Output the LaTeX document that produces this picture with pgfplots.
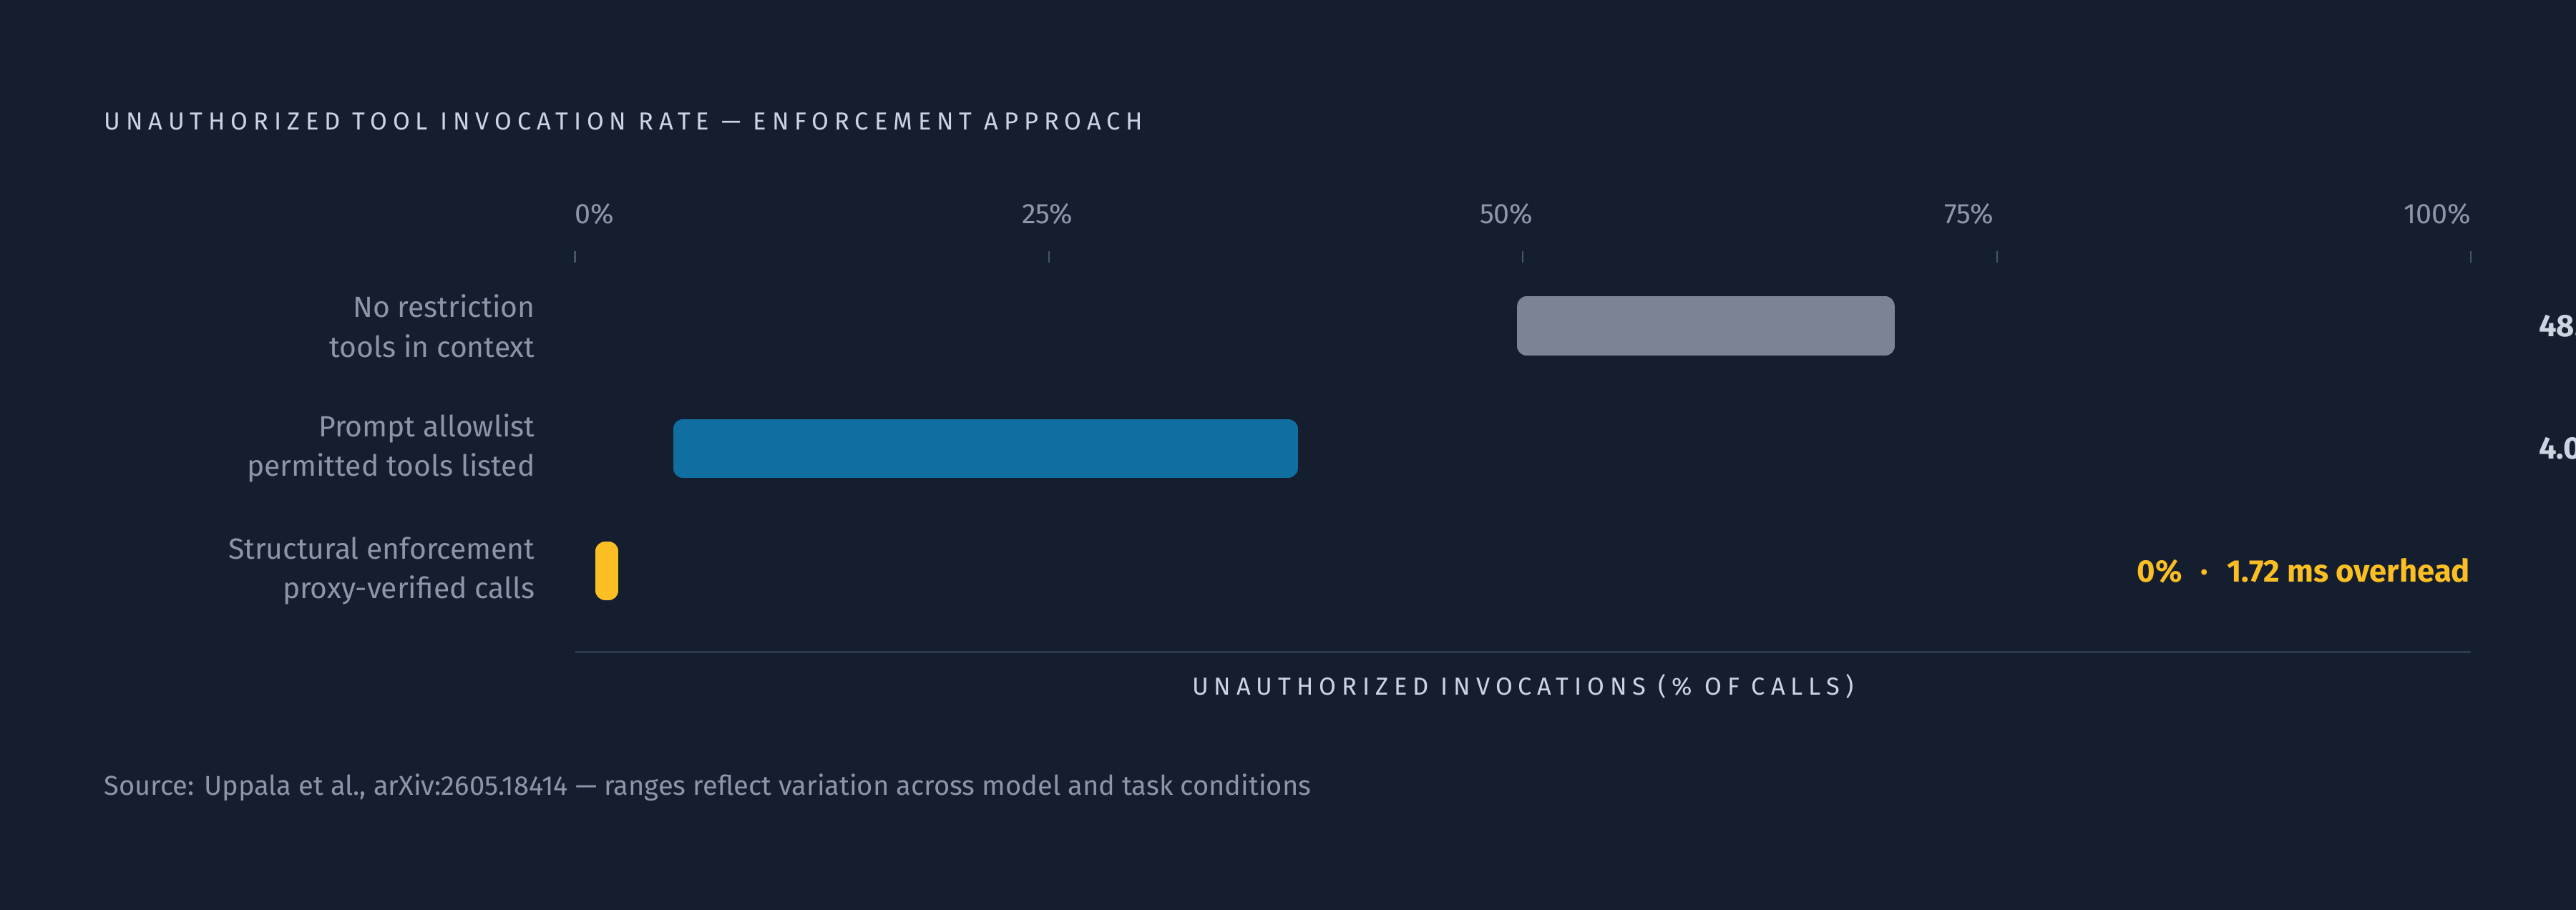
\documentclass[border=0pt]{standalone}
\usepackage{fontspec}
\setmainfont{Fira Sans}
\usepackage{pgfplots}
\pgfplotsset{compat=1.18}

\definecolor{bg}{HTML}{151E2F}
\definecolor{barGray}{HTML}{7B8494}
\definecolor{barBlue}{HTML}{106EA0}
\definecolor{barAmber}{HTML}{FBBF24}
\definecolor{txtLight}{HTML}{CBD5E1}
\definecolor{txtGray}{HTML}{8C96A8}
\definecolor{axisLine}{HTML}{2E3A4D}
\definecolor{tickCol}{HTML}{475569}

\begin{document}
\begin{tikzpicture}
\fill[bg] (0,0) rectangle (784pt,277pt);
\useasboundingbox (0,0) rectangle (784pt,277pt);

\node[anchor=base west, text=txtLight, inner sep=0pt,
      font=\fontsize{7.5}{9}\selectfont\addfontfeatures{LetterSpace=23}]
  at (31.5pt,237.5pt) {UNAUTHORIZED TOOL INVOCATION RATE — ENFORCEMENT APPROACH};

\begin{axis}[
  at={(175pt,78.5pt)}, anchor=south west,
  scale only axis, width=577pt, height=118.5pt,
  xmin=0, xmax=100, ymin=-0.517, ymax=2.664, y dir=reverse,
  enlargelimits=false, clip=false,
  axis line style={draw=none},
  tick align=outside,
  major tick length=3.5pt,
  xtick={0,25,50,75,100},
  xticklabels={{\makebox[0pt][l]{0\%}},
               {\makebox[0pt]{\kern-1pt 25\%}},
               {\makebox[0pt]{\kern-10pt 50\%}},
               {\makebox[0pt]{\kern-17pt 75\%}},
               {\makebox[0pt][r]{100\%}}},
  xtick pos=right, xticklabel pos=right,
  xtick style={draw=tickCol, line width=0.5pt},
  xticklabel style={text=txtGray, font=\fontsize{8.6}{10}\selectfont,
                    anchor=south, inner sep=0pt, yshift=8pt},
  ytick={0,1,2},
  yticklabels={{No restriction\\tools in context},
               {Prompt allowlist\\permitted tools listed},
               {Structural enforcement\\proxy-verified calls}},
  ytick style={draw=none},
  yticklabel style={align=right, text=txtGray, font=\fontsize{8.9}{12}\selectfont,
                    inner sep=0pt, anchor=east, xshift=-8.5pt},
  xlabel={UNAUTHORIZED INVOCATIONS (\% OF CALLS)},
  x label style={at={(axis description cs:0.5,0)}, anchor=base, yshift=-13pt,
                 text=txtLight, inner sep=0pt,
                 font=\fontsize{7.5}{9}\selectfont\addfontfeatures{LetterSpace=23}},
]
% range bars: start/stop of each range, drawn as outlined polygons for rounded corners
\addplot[fill=barGray, draw=barGray, line width=6pt, line join=round]
  coordinates {(50.2,-0.161) (69.1,-0.161) (69.1,0.161) (50.2,0.161)} -- cycle;
\addplot[fill=barBlue, draw=barBlue, line width=6pt, line join=round]
  coordinates {(5.7,0.839) (37.6,0.839) (37.6,1.161) (5.7,1.161)} -- cycle;
\addplot[fill=barAmber, draw=barAmber, line width=6pt, line join=round]
  coordinates {(1.6,1.839) (1.77,1.839) (1.77,2.161) (1.6,2.161)} -- cycle;

\draw[axisLine, line width=0.6pt] (axis cs:0,2.664) -- (axis cs:100,2.664);

\node[anchor=east, text=barAmber, inner sep=0pt, font=\fontsize{9.5}{11}\selectfont\bfseries]
  at (axis cs:100,2) {0\%\hspace{0.6em}·\hspace{0.6em}1.72 ms overhead};
\node[anchor=west, text=txtLight, inner sep=0pt, xshift=20.5pt, font=\fontsize{9.5}{11}\selectfont\bfseries]
  at (axis cs:100,0) {48.};
\node[anchor=west, text=txtLight, inner sep=0pt, xshift=20.5pt, font=\fontsize{9.5}{11}\selectfont\bfseries]
  at (axis cs:100,1) {4.0};
\end{axis}

\node[anchor=base west, text=txtGray, inner sep=0pt, font=\fontsize{8.3}{10}\selectfont]
  at (31.5pt,35pt) {Source: Uppala et al., arXiv:2605.18414 — ranges reflect variation across model and task conditions};
\end{tikzpicture}
\end{document}
